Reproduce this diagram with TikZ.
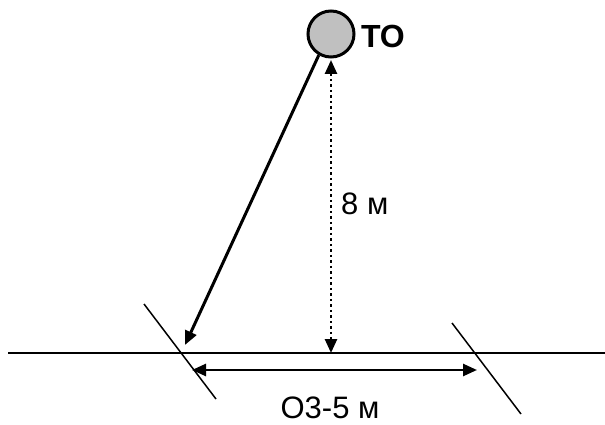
\documentclass[tikz,border=0pt]{standalone}
\usepackage{fontspec}
\setmainfont{Liberation Sans}
\usetikzlibrary{arrows.meta}
\begin{document}
\begin{tikzpicture}[x=1pt,y=-1pt,
  thinline/.style={line width=1.5pt},
  tip/.style={-{Triangle[length=14pt,width=12pt]}},
  lbl/.style={font=\fontsize{31}{34}\selectfont, inner sep=0pt}]
\useasboundingbox (0,0) rectangle (605,425);
\node[circle, draw, line width=3pt, fill={rgb,255:red,192;green,192;blue,192}, minimum size=46pt, inner sep=0pt] (to) at (331,34) {};
\node[lbl, font=\fontsize{32}{36}\selectfont\bfseries, anchor=west] (tolbl) at (361,36) {ТО};
\coordinate (gl) at (8,353);
\coordinate (gr) at (605,353);
\draw[thinline] (gl) -- (gr);
\coordinate (t1a) at (144,304);
\coordinate (t1b) at (216,399);
\draw[thinline] (t1a) -- (t1b);
\coordinate (t2a) at (452,323);
\coordinate (t2b) at (521,414);
\draw[thinline] (t2a) -- (t2b);
\coordinate (hit) at (185,345);
\draw[line width=3pt, tip] (to.240) -- (hit);
\coordinate (dtop) at (331,60);
\coordinate (dbot) at (331,353);
\draw[line width=2.5pt, dash pattern=on 2.5pt off 3pt, {Triangle[length=14pt,width=12pt]}-{Triangle[length=14pt,width=12pt]}] (dtop) -- (dbot);
\coordinate (ha) at (192,370);
\coordinate (hb) at (477,370);
\draw[line width=2.5pt, {Triangle[length=14pt,width=12pt]}-{Triangle[length=14pt,width=12pt]}] (ha) -- (hb);
\node[lbl, anchor=west] (h8) at (341,204) {8 м};
\node[lbl] (oz) at (330,408) {О3-5 м};
\end{tikzpicture}
\end{document}
